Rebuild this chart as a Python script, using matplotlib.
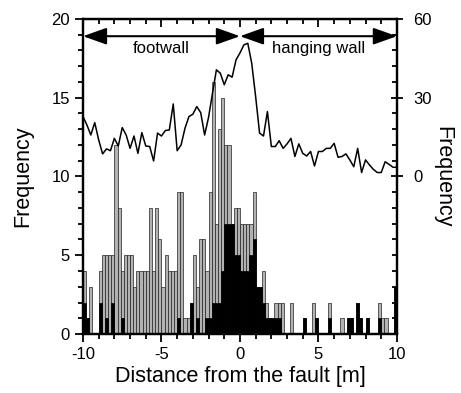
import numpy as np
import matplotlib
matplotlib.use('Agg')
import matplotlib.pyplot as plt
from matplotlib.ticker import MultipleLocator, FixedLocator

plt.rcParams['font.family'] = ['Liberation Sans', 'DejaVu Sans']
plt.rcParams['axes.unicode_minus'] = False

# histogram counts per 0.2 m bin, from -10 m to +10 m
total_counts = [4, 1, 3, 0, 0, 4, 5, 5, 5, 5,
                12, 8, 4, 5, 5, 5, 3, 4, 4, 4,
                4, 8, 4, 8, 6, 3, 5, 4, 4, 4,
                9, 9, 1, 1, 2, 5, 3, 6, 6, 4,
                9, 16, 7, 13, 15, 12, 12, 7, 8, 8,
                7, 7, 7, 7, 9, 3, 3, 4, 2, 1,
                1, 2, 2, 2, 0, 0, 2, 0, 0, 0,
                1, 0, 0, 2, 1, 0, 0, 0, 2, 0,
                0, 0, 1, 0, 1, 1, 0, 2, 1, 0,
                1, 0, 0, 0, 2, 1, 1, 0, 0, 3]
black_counts = [2, 1, 0, 0, 0, 2, 0, 1, 0, 2,
                0, 0, 1, 0, 0, 0, 0, 0, 0, 0,
                0, 0, 0, 0, 0, 0, 0, 0, 0, 0,
                1, 0, 0, 0, 2, 0, 1, 0, 0, 1,
                1, 2, 2, 2, 4, 7, 7, 7, 5, 5,
                4, 4, 4, 5, 6, 3, 3, 2, 1, 1,
                1, 1, 1, 0, 0, 0, 0, 0, 0, 0,
                1, 0, 0, 0, 1, 0, 0, 0, 1, 0,
                0, 0, 0, 0, 1, 1, 0, 2, 1, 0,
                1, 0, 0, 0, 1, 0, 0, 0, 0, 3]
bin_width = 0.2
bin_left = np.arange(-10, 10, bin_width)[:len(total_counts)]

# line (right axis), one value every 0.25 m
line_x = np.linspace(-10, 10, 81)
line_y = [22.8, 19.6, 15.8, 20.5, 13.9, 8.6, 10.5, 9.8, 14.5, 11.6,
          18.6, 15.8, 10.7, 15.4, 8.8, 16.7, 11.6, 11.4, 5.9, 16.5,
          15.4, 17.5, 17.7, 27.6, 9.8, 12.0, 18.4, 22.8, 23.7, 26.6,
          24.3, 15.8, 22.5, 31.7, 40.6, 39.3, 34.9, 38.7, 37.8, 44.4,
          47.0,
          50.1, 50.7, 43.1, 30.4, 16.5, 15.4, 24.7, 11.4, 11.4, 13.6,
          10.7, 12.4, 14.5, 7.6, 12.4, 8.8, 7.8, 9.5, 4.0, 9.5,
          9.5, 10.7, 10.7, 12.6, 7.3, 7.6, 8.6, 6.3, 3.7, 10.7,
          1.5, 6.3, 4.4, 2.7, 1.5, 1.5, 5.6, 4.6, 3.5, 3.5]

fig = plt.figure(figsize=(4.61, 3.93), dpi=100)
ax = fig.add_axes([0.18, 0.15, 0.681, 0.802])

ax.bar(bin_left, total_counts, width=bin_width, align='edge',
       color='#b2b2b2', edgecolor='#222222', linewidth=0.5)
ax.bar(bin_left, black_counts, width=bin_width, align='edge',
       color='black', edgecolor='black', linewidth=0.5)

ax.set_xlim(-10, 10)
ax.set_ylim(0, 20)
ax.xaxis.set_major_locator(MultipleLocator(5))
ax.xaxis.set_minor_locator(MultipleLocator(1))
ax.yaxis.set_major_locator(MultipleLocator(5))
ax.yaxis.set_minor_locator(MultipleLocator(1))
ax.tick_params(which='both', direction='out', labelsize=12, width=1.3,
               right=False, top=False)
ax.tick_params(which='major', length=6)
ax.tick_params(which='minor', length=3.5)
for s in ax.spines.values():
    s.set_linewidth(1.6)

ax.set_xlabel('Distance from the fault [m]', fontsize=15.5, labelpad=3)
ax.set_ylabel('Frequency', fontsize=15.5, labelpad=13)

# top ticks pointing inward
top = ax.secondary_xaxis('top')
top.xaxis.set_major_locator(MultipleLocator(5))
top.xaxis.set_minor_locator(MultipleLocator(1))
top.tick_params(which='both', direction='in', labeltop=False, width=1.3)
top.tick_params(which='major', length=6)
top.tick_params(which='minor', length=3.5)

# right axis for the line
ax2 = ax.twinx()
ax2.plot(line_x, line_y, color='black', linewidth=1.1)
ax2.set_ylim(-60, 60)
ax2.yaxis.set_major_locator(FixedLocator([0, 30, 60]))
ax2.yaxis.set_minor_locator(MultipleLocator(6))
ax2.tick_params(which='major', direction='inout', length=8, width=1.3,
                labelsize=12, pad=8)
ax2.tick_params(which='minor', direction='in', length=3.5, width=1.3)
ax2.set_ylabel('Frequency', fontsize=15.5, rotation=270, labelpad=15)
for s in ax2.spines.values():
    s.set_linewidth(1.6)

# footwall / hanging wall arrows
arrow_y = 18.9
astyle = dict(arrowstyle='<|-|>,head_length=0.9,head_width=0.32',
              color='black', lw=1.5, shrinkA=0, shrinkB=0, mutation_scale=16)
ax.annotate('', xy=(-10, arrow_y), xytext=(0, arrow_y), arrowprops=astyle)
ax.annotate('', xy=(0, arrow_y), xytext=(10, arrow_y), arrowprops=astyle)
ax.text(-5, 18.15, 'footwall', ha='center', va='center', fontsize=12)
ax.text(5, 18.15, 'hanging wall', ha='center', va='center', fontsize=12)

fig.savefig('out.png', dpi=100)
